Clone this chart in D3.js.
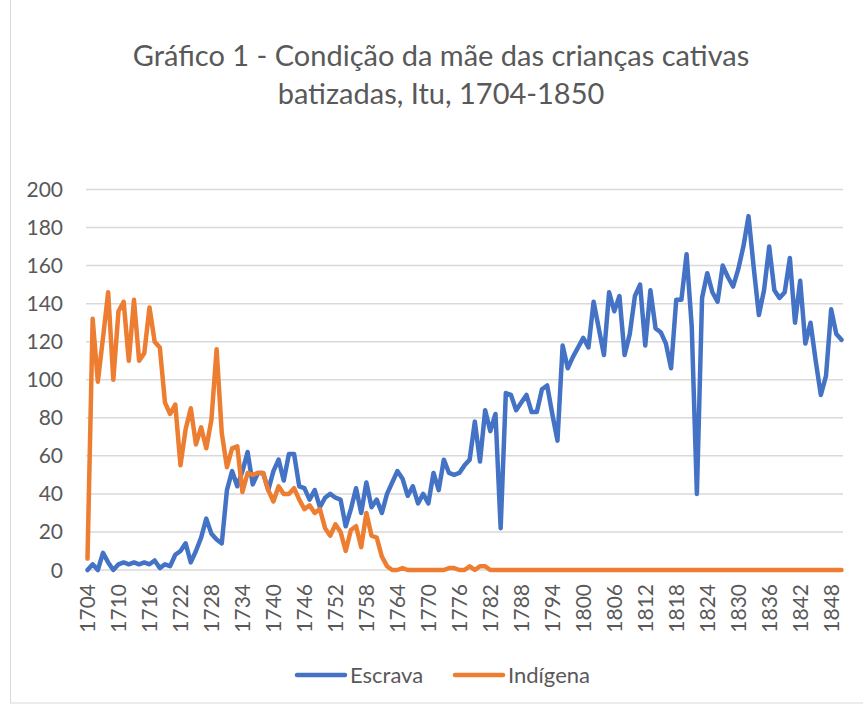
<!DOCTYPE html>
<html>
<head>
<meta charset="utf-8">
<script src="https://cdn.jsdelivr.net/npm/d3@7"></script>
<style>
  body { margin: 0; background: #fff; }
  text { font-family: Lato, "Open Sans", sans-serif; fill: #595959; }
</style>
</head>
<body>
<div id="chart"></div>
<script>
var width = 863;
var height = 706;

// years 1704 .. 1850
var years = d3.range(1704, 1851);

var escrava = [
  0, 3, 0, 9, 4, 0, 3, 4, 3, 4,
  3, 4, 3, 5, 1, 3, 2, 8, 10, 14,
  4, 10, 17, 27, 19, 16, 14, 42, 52, 44,
  52, 62, 45, 51, 51, 42, 52, 58, 47, 61,
  61, 44, 43, 37, 42, 33, 38, 40, 38, 37,
  23, 32, 43, 30, 46, 33, 37, 30, 40, 46,
  52, 48, 39, 44, 35, 40, 35, 51, 42, 58,
  51, 50, 51, 55, 58, 78, 57, 84, 73, 82,
  22, 93, 92, 84, 88, 92, 83, 83, 95, 97,
  82, 68, 118, 106, 112, 117, 122, 117, 141, 127,
  113, 146, 136, 144, 113, 124, 144, 150, 118, 147,
  127, 125, 119, 106, 142, 142, 166, 128, 40, 143,
  156, 146, 141, 160, 154, 149, 158, 170, 186, 159,
  134, 147, 170, 147, 143, 146, 164, 130, 152, 119,
  130, 110, 92, 102, 137, 124, 121
];

var indigena = [
  6, 132, 99, 122, 146, 100, 136, 141, 110, 142,
  110, 114, 138, 120, 117, 88, 82, 87, 55, 74,
  85, 66, 75, 64, 79, 116, 72, 54, 64, 65,
  41, 51, 50, 51, 51, 42, 36, 44, 40, 40,
  43, 37, 32, 34, 30, 32, 22, 18, 24, 20,
  10, 21, 23, 12, 30, 18, 17, 7, 2, 0,
  0, 1, 0, 0, 0, 0, 0, 0, 0, 0,
  1, 1, 0, 0, 2, 0, 2, 2, 0, 0,
  0, 0, 0, 0, 0, 0, 0, 0, 0, 0,
  0, 0, 0, 0, 0, 0, 0, 0, 0, 0,
  0, 0, 0, 0, 0, 0, 0, 0, 0, 0,
  0, 0, 0, 0, 0, 0, 0, 0, 0, 0,
  0, 0, 0, 0, 0, 0, 0, 0, 0, 0,
  0, 0, 0, 0, 0, 0, 0, 0, 0, 0,
  0, 0, 0, 0, 0, 0, 0
];

var yTicks = [0, 20, 40, 60, 80, 100, 120, 140, 160, 180, 200];
var xTicks = d3.range(1704, 1851, 6);

var svg = d3.select("#chart")
  .append("svg")
  .attr("width", width)
  .attr("height", height);

// chart border
svg.append("rect")
  .attr("x", 10.5)
  .attr("y", -5)
  .attr("width", 900)
  .attr("height", 708)
  .attr("fill", "white")
  .attr("stroke", "#d9d9d9")
  .attr("stroke-width", 1);

var x = d3.scaleLinear().domain([1704, 1850]).range([87.5, 841.5]);
var y = d3.scaleLinear().domain([0, 200]).range([570, 189.5]);

// gridlines
svg.append("g")
  .selectAll("line")
  .data(yTicks)
  .join("line")
  .attr("x1", 86)
  .attr("x2", 843)
  .attr("y1", function (d) { return y(d); })
  .attr("y2", function (d) { return y(d); })
  .attr("stroke", "#d9d9d9")
  .attr("stroke-width", 1.5);

// y labels
svg.append("g")
  .selectAll("text")
  .data(yTicks)
  .join("text")
  .attr("x", 63)
  .attr("y", function (d) { return y(d) + 7.5; })
  .attr("text-anchor", "end")
  .style("font-size", "21px")
  .text(function (d) { return d; });

// x labels, rotated
svg.append("g")
  .selectAll("text")
  .data(xTicks)
  .join("text")
  .attr("transform", function (d) {
    return "translate(" + (x(d) + 7.5) + ",584) rotate(-90)";
  })
  .attr("text-anchor", "end")
  .style("font-size", "21px")
  .text(function (d) { return d; });

var line = d3.line()
  .x(function (d, i) { return x(years[i]); })
  .y(function (d) { return y(d); });

svg.append("path")
  .datum(escrava)
  .attr("d", line)
  .attr("fill", "none")
  .attr("stroke", "#4472C4")
  .attr("stroke-width", 4.5)
  .attr("stroke-linejoin", "round")
  .attr("stroke-linecap", "round");

svg.append("path")
  .datum(indigena)
  .attr("d", line)
  .attr("fill", "none")
  .attr("stroke", "#ED7D31")
  .attr("stroke-width", 4.5)
  .attr("stroke-linejoin", "round")
  .attr("stroke-linecap", "round");

// title
var title = svg.append("text")
  .attr("text-anchor", "middle")
  .style("font-size", "29px");
title.append("tspan").attr("x", 441).attr("y", 66)
  .text("Gráfico 1 - Condição da mãe das crianças cativas");
title.append("tspan").attr("x", 441).attr("y", 104)
  .text("batizadas, Itu, 1704-1850");

// legend
var legend = [
  { name: "Escrava", color: "#4472C4", x: 297 },
  { name: "Indígena", color: "#ED7D31", x: 455 }
];
var lg = svg.append("g")
  .selectAll("g")
  .data(legend)
  .join("g");
lg.append("line")
  .attr("x1", function (d) { return d.x; })
  .attr("x2", function (d) { return d.x + 48; })
  .attr("y1", 675)
  .attr("y2", 675)
  .attr("stroke", function (d) { return d.color; })
  .attr("stroke-width", 4.5)
  .attr("stroke-linecap", "round");
lg.append("text")
  .attr("x", function (d) { return d.x + 53; })
  .attr("y", 683)
  .style("font-size", "22px")
  .text(function (d) { return d.name; });
</script>
</body>
</html>
